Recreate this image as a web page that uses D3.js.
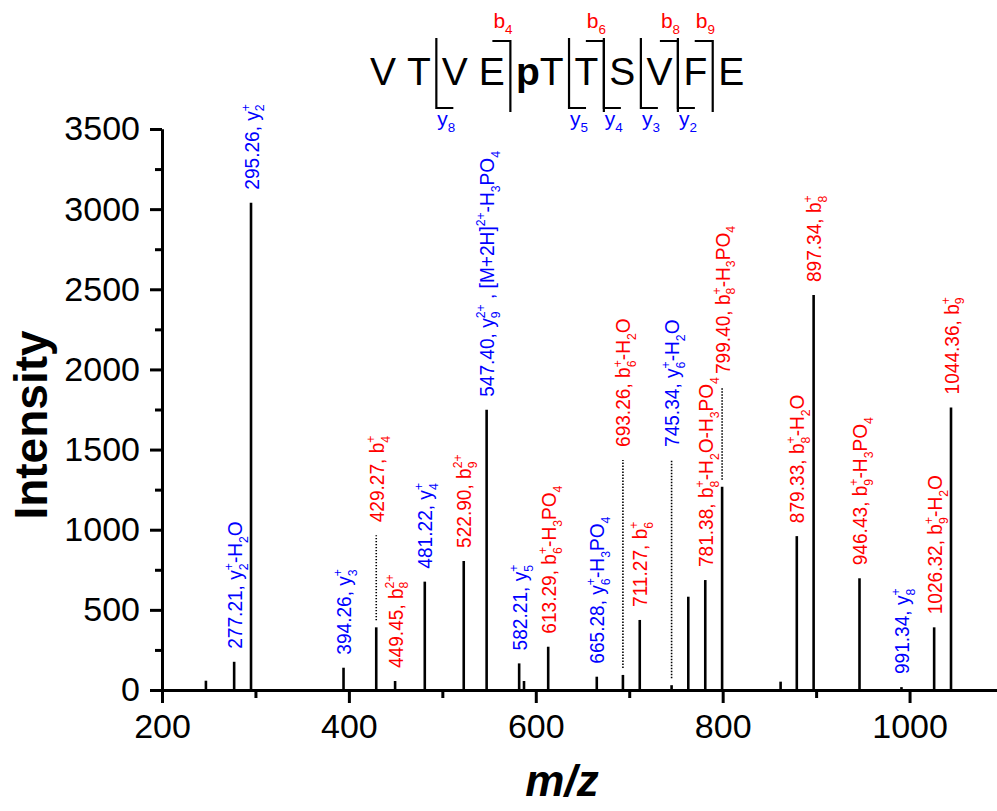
<!DOCTYPE html>
<html>
<head>
<meta charset="utf-8">
<script src="https://cdn.jsdelivr.net/npm/d3@7"></script>
<style>
  body { margin: 0; background: #fff; }
  svg { display: block; }
  text { font-family: "Liberation Sans", Arial, sans-serif; white-space: pre; }
</style>
</head>
<body>
<svg id="chart" width="997" height="811"></svg>
<script>
// MS/MS spectrum of VTVEpTTSVFE: peak positions (m/z) and intensities
const peakMz = [247, 277.21, 295.26, 394.26, 429.27, 449.45, 481.22, 522.90, 547.40,
  582.21, 587.4, 613.29, 665.28, 693.26, 711.27, 745.34, 763.2, 781.38, 799.40,
  862, 879.33, 897.34, 946.43, 991.34, 1026.32, 1044.36];
const peakIntensity = [58, 176, 3040, 139, 391, 56, 676, 805, 1748,
  166, 56, 270, 83, 94, 437, 30, 582, 686, 1268,
  52, 960, 2464, 697, 18, 391, 1763];

// Fragment annotations. {sub|sup} stacks, _{..} subscript, ^{..} superscript
const labelMz = [277.21, 295.26, 394.26, 429.27, 449.45, 481.22, 522.90, 547.40,
  582.21, 613.29, 665.28, 693.26, 711.27, 745.34, 781.38, 799.40,
  879.33, 897.34, 946.43, 991.34, 1026.32, 1044.36];
const labelText = [
  "277.21, y{2|+}-H_{2}O",
  "295.26, y{2|+}",
  "394.26, y{3|+}",
  "429.27, b{4|+}",
  "449.45, b{8|2+}",
  "481.22, y{4|+}",
  "522.90, b{9|2+}",
  "547.40, y{9|2+} , [M+2H]^{2+}-H_{3}PO_{4}",
  "582.21, y{5|+}",
  "613.29, b{6|+}-H_{3}PO_{4}",
  "665.28, y{6|+}-H_{3}PO_{4}",
  "693.26, b{6|+}-H_{2}O",
  "711.27, b{6|+}",
  "745.34, y{6|+}-H_{2}O",
  "781.38, b{8|+}-H_{2}O-H_{3}PO_{4}",
  "799.40, b{8|+}-H_{3}PO_{4}",
  "879.33, b{8|+}-H_{2}O",
  "897.34, b{8|+}",
  "946.43, b{9|+}-H_{3}PO_{4}",
  "991.34, y{8|+}",
  "1026.32, b{9|+}-H_{2}O",
  "1044.36, b{9|+}"
];
const labelIon = ["y", "y", "y", "b", "b", "y", "b", "y",
  "y", "b", "y", "b", "b", "y", "b", "b",
  "b", "b", "b", "y", "b", "b"];

// Dotted leader lines lifting some labels above neighbours (top in intensity units)
const leaderMz = [429.27, 693.26, 745.34, 799.40];
const leaderTop = [965, 1435, 1435, 1890];

const xTicks = [200, 400, 600, 800, 1000];
const xMinorTicks = [300, 500, 700, 900, 1100];
const yTicks = [0, 500, 1000, 1500, 2000, 2500, 3000, 3500];
const yMinorTicks = [250, 750, 1250, 1750, 2250, 2750, 3250];

// Peptide sequence and observed cleavage sites
const residues = ["V", "T", "V", "E", "pT", "T", "S", "V", "F", "E"];
const bIons = [4, 6, 8, 9];
const yIons = [8, 5, 4, 3, 2];

const ionColor = { y: "#0000ff", b: "#ff0000" };

const svg = d3.select("#chart");
svg.append("rect").attr("width", 997).attr("height", 811).attr("fill", "#fff");

const x = d3.scaleLinear().domain([200, 1100]).range([162, 1003]);
const y = d3.scaleLinear().domain([0, 3500]).range([690, 129]);

// ---- axes ----
function styleAxis(g, fontSize) {
  g.selectAll("path.domain").attr("stroke", "#000").attr("stroke-width", 3);
  g.selectAll(".tick line").attr("stroke", "#000").attr("stroke-width", 3);
  g.selectAll(".tick text").attr("font-size", fontSize)
    .attr("font-family", "'Liberation Sans', Arial, sans-serif").attr("fill", "#000");
}

const xMinor = svg.append("g").attr("transform", `translate(0,${y(0)})`)
  .call(d3.axisBottom(x).tickValues(xMinorTicks).tickSize(8).tickSizeOuter(0).tickFormat(""));
styleAxis(xMinor, 34);
const yMinor = svg.append("g").attr("transform", `translate(${x(200)},0)`)
  .call(d3.axisLeft(y).tickValues(yMinorTicks).tickSize(7).tickSizeOuter(0).tickFormat(""));
styleAxis(yMinor, 34);

const xAxis = svg.append("g").attr("transform", `translate(0,${y(0)})`)
  .call(d3.axisBottom(x).tickValues(xTicks).tickSize(13).tickSizeOuter(0)
    .tickPadding(11).tickFormat(d3.format("d")));
styleAxis(xAxis, 34);
const yAxis = svg.append("g").attr("transform", `translate(${x(200)},0)`)
  .call(d3.axisLeft(y).tickValues(yTicks).tickSize(12).tickSizeOuter(0)
    .tickPadding(10).tickFormat(d3.format("d")));
styleAxis(yAxis, 34);

// ---- peaks ----
svg.append("g").selectAll("line").data(peakMz).join("line")
  .attr("x1", d => x(d)).attr("x2", d => x(d))
  .attr("y1", y(0)).attr("y2", (d, i) => y(peakIntensity[i]))
  .attr("stroke", "#000").attr("stroke-width", 2.6);

// ---- dotted leaders ----
const intensityAt = mz => peakIntensity[peakMz.indexOf(mz)];
svg.append("g").selectAll("line").data(leaderMz).join("line")
  .attr("x1", d => x(d)).attr("x2", d => x(d))
  .attr("y1", d => y(intensityAt(d)) - 7).attr("y2", (d, i) => y(leaderTop[i]))
  .attr("stroke", "#000").attr("stroke-width", 1.6).attr("stroke-dasharray", "1.4,1.6");

// ---- rich text helper: lays out pieces along the text direction ----
function drawRich(g, markup, size, color) {
  const re = /\{([^|}]*)\|([^}]*)\}|_\{([^}]*)\}|\^\{([^}]*)\}|([^{_^]+)/g;
  const small = size * 0.64;
  let pos = 0, m;
  const piece = (txt, fs, dy) => {
    const t = g.append("text").attr("x", pos).attr("y", dy)
      .attr("font-size", fs).attr("fill", color).text(txt);
    return t.node().getComputedTextLength();
  };
  while ((m = re.exec(markup)) !== null) {
    if (m[5] !== undefined) {
      pos += piece(m[5], size, 0);
    } else if (m[1] !== undefined) {
      const w1 = piece(m[1], small, size * 0.28);
      const w2 = piece(m[2], small, -size * 0.42);
      pos += Math.max(w1, w2);
    } else if (m[3] !== undefined) {
      pos += piece(m[3], small, size * 0.28);
    } else if (m[4] !== undefined) {
      pos += piece(m[4], small, -size * 0.42);
    }
  }
  return pos;
}

// ---- peak annotations (rotated, slightly condensed) ----
labelMz.forEach((mz, i) => {
  const li = leaderMz.indexOf(mz);
  const top = li >= 0 ? leaderTop[li] : intensityAt(mz);
  const g = svg.append("g")
    .attr("transform", `translate(${x(mz) + 7.5},${y(top) - 13}) rotate(-90) scale(0.91,1)`);
  drawRich(g, labelText[i], 21, ionColor[labelIon[i]]);
});

// ---- axis titles ----
svg.append("text").attr("transform", "translate(47,425) rotate(-90)")
  .attr("text-anchor", "middle").attr("font-size", 46).attr("font-weight", "bold")
  .text("Intensity");
svg.append("text").attr("x", 562).attr("y", 796)
  .attr("text-anchor", "middle").attr("font-size", 44).attr("font-weight", "bold")
  .attr("font-style", "italic").text("m/z");

// ---- sequence with fragmentation brackets ----
const hdr = svg.append("g");
const gap = 11;
let cx = 370;
const bounds = [];
residues.forEach(r => {
  const t = hdr.append("text").attr("x", cx).attr("y", 85).attr("font-size", 39).attr("fill", "#000");
  if (r.startsWith("p")) {
    t.append("tspan").attr("font-weight", "bold").text("p");
    t.append("tspan").text(r.slice(1));
  } else {
    t.text(r);
  }
  const w = t.node().getComputedTextLength();
  bounds.push([cx, cx + w]);
  cx += w + gap;
});
const siteX = s => bounds[s - 1][1] + gap / 2;

bIons.forEach(n => {
  const sx = siteX(n);
  hdr.append("path").attr("d", `M${sx - 18},41H${sx}V112`)
    .attr("fill", "none").attr("stroke", "#000").attr("stroke-width", 2.2);
  const g = hdr.append("g").attr("transform", `translate(${sx - 17},28)`);
  drawRich(g, `b_{${n}}`, 21, ionColor.b);
});
yIons.forEach(n => {
  const sx = siteX(residues.length - n);
  hdr.append("path").attr("d", `M${sx},38V108H${sx + 17}`)
    .attr("fill", "none").attr("stroke", "#000").attr("stroke-width", 2.2);
  const g = hdr.append("g").attr("transform", `translate(${sx + 1},126)`);
  drawRich(g, `y_{${n}}`, 21, ionColor.y);
});
</script>
</body>
</html>
